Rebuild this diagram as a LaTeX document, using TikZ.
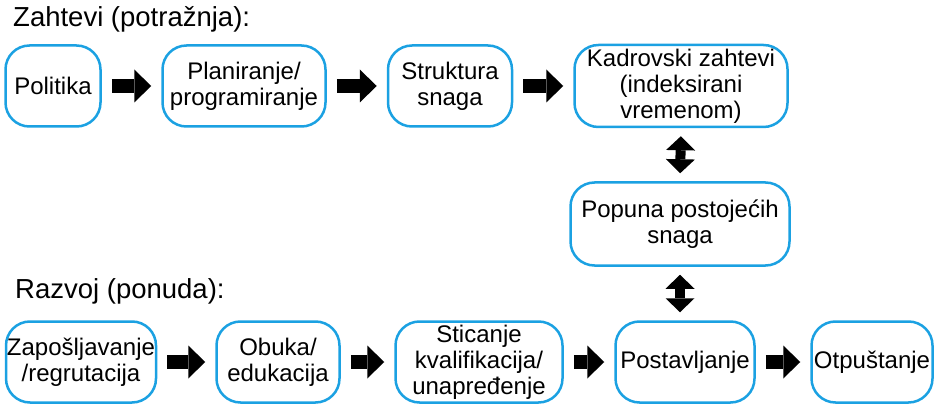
\documentclass[tikz,border=0pt]{standalone}
\usepackage{fontspec}
\setmainfont{Liberation Sans}
\usetikzlibrary{arrows.meta}
\definecolor{boxblue}{RGB}{27,161,226}

\begin{document}
\begin{tikzpicture}[x=1pt, y=-1pt,
    box_node/.style={draw=boxblue, line width=2.5pt, rounded corners=24pt, align=center, inner sep=0pt, font=\fontsize{24}{26}\selectfont},
    title_node/.style={anchor=base west, inner sep=0pt, font=\fontsize{27.5}{30}\selectfont},
    big_arrow/.style={line width=14pt, -{Triangle[length=17pt, width=33pt, line width=0pt]}, shorten <=10pt, shorten >=10pt},
    up_down/.style={line width=10pt, {Triangle[length=14pt, width=29pt, line width=0pt]}-{Triangle[length=14pt, width=29pt, line width=0pt]}, shorten <=8pt, shorten >=8pt}]
    \useasboundingbox (0,0) rectangle (936,406);
    % demand side
    \node[title_node] (t1) at (13, 27) {Zahtevi (potražnja):};
    \node[box_node, minimum width=95pt, minimum height=81pt] (1) at (53, 86) {Politika};
    \node[box_node, minimum width=163pt, minimum height=81pt] (2) at (244, 86) {Planiranje/\\programiranje};
    \node[box_node, minimum width=124pt, minimum height=81pt] (3) at (450, 86) {Struktura\\snaga};
    \node[box_node, minimum width=213pt, minimum height=82pt] (4) at (681, 86) {Kadrovski zahtevi\\(indeksirani\\vremenom)};
    \node[box_node, minimum width=219pt, minimum height=83pt] (5) at (680, 224) {Popuna postojećih\\snaga};
    % supply side
    \node[title_node] (t2) at (15, 298) {Razvoj (ponuda):};
    \node[box_node, minimum width=150pt, minimum height=81pt] (6) at (81, 362) {Zapošljavanje\\/regrutacija};
    \node[box_node, minimum width=123pt, minimum height=81pt] (7) at (278, 362) {Obuka/\\edukacija};
    \node[box_node, minimum width=167pt, minimum height=81pt] (8) at (479, 362) {Sticanje\\kvalifikacija/\\unapređenje};
    \node[box_node, minimum width=139pt, minimum height=81pt] (9) at (685, 362) {Postavljanje};
    \node[box_node, minimum width=121pt, minimum height=81pt] (10) at (872, 362) {Otpuštanje};
    \draw[big_arrow] (1) -- (2);
    \draw[big_arrow] (2) -- (3);
    \draw[big_arrow] (3) -- (4);
    \draw[big_arrow] (6) -- (7);
    \draw[big_arrow] (7) -- (8);
    \draw[big_arrow] (8) -- (9);
    \draw[big_arrow] (9) -- (10);
    \draw[up_down] (4.south) -- (5.north);
    \draw[up_down] (5.south) -- (5.south |- 9.north);
\end{tikzpicture}
\end{document}
